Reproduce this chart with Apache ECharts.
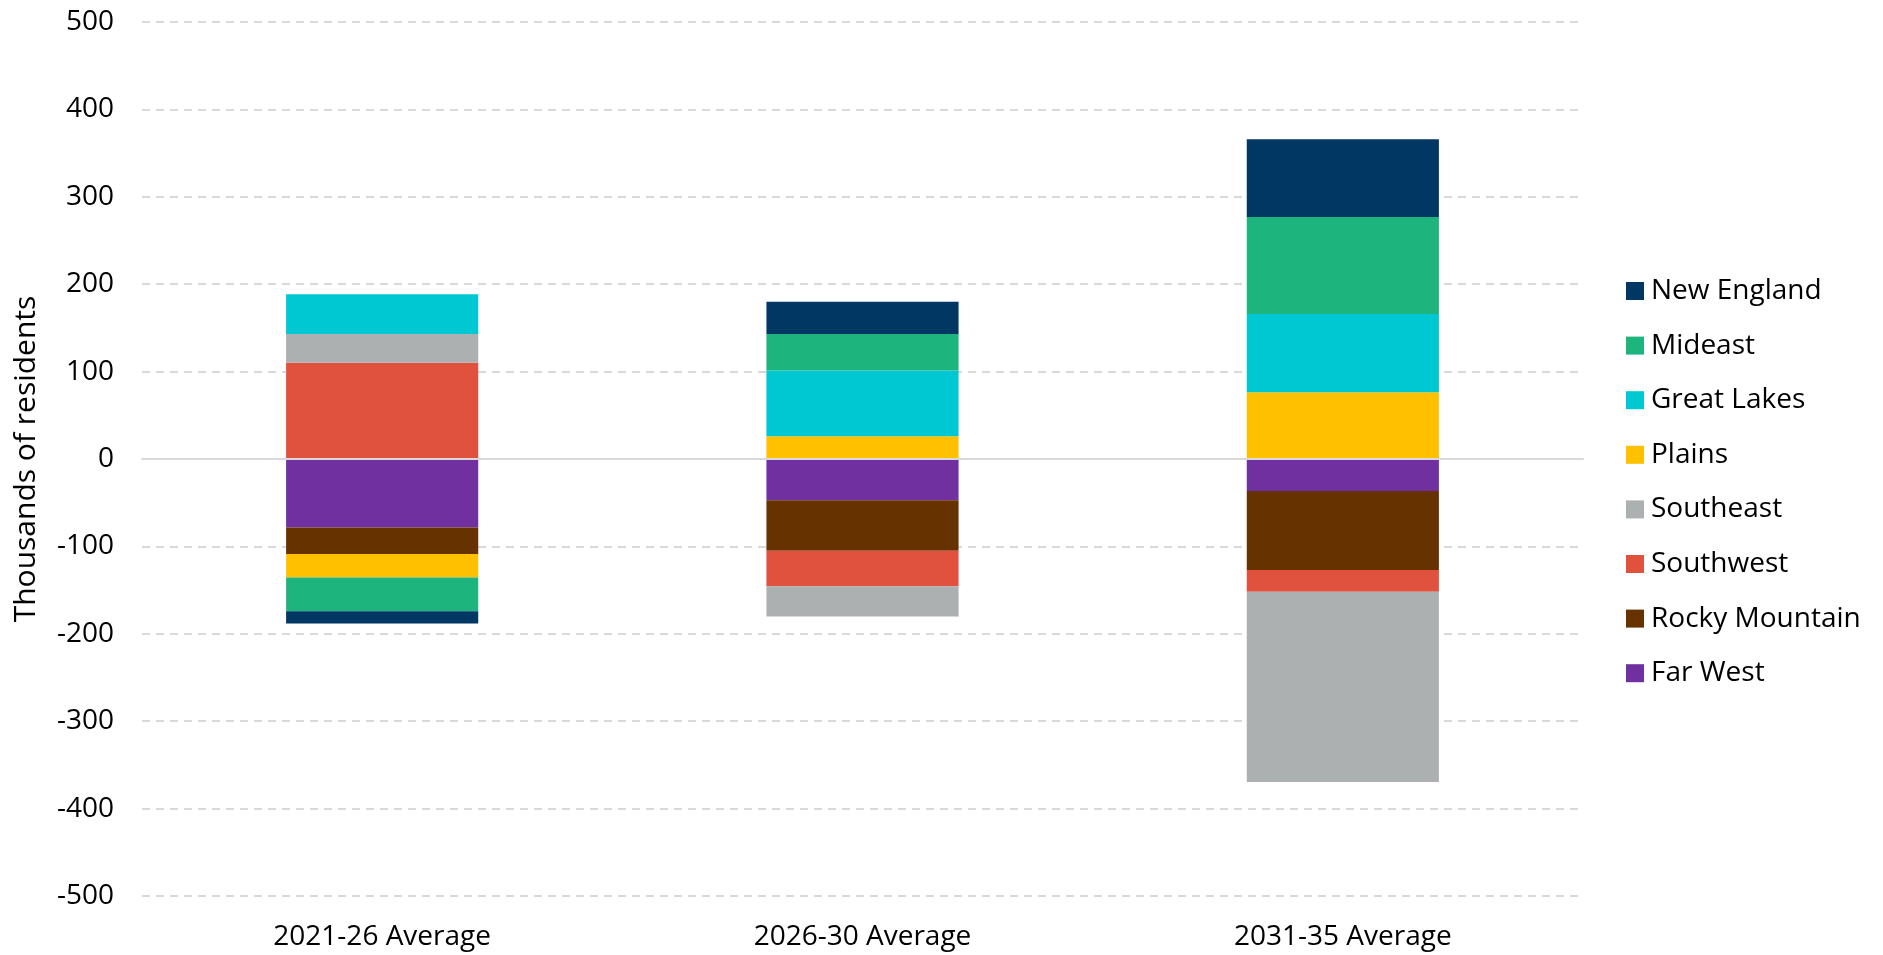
<!DOCTYPE html>
<html>
<head>
<meta charset="utf-8">
<script src="https://cdn.jsdelivr.net/npm/echarts@6/dist/echarts.min.js"></script>
<style>
  html, body { margin: 0; padding: 0; background: #fff; }
  #chart { width: 1883px; height: 955px; }
</style>
</head>
<body>
<div id="chart"></div>
<script>
const categories = ['2021-26 Average', '2026-30 Average', '2031-35 Average']
// thousands of residents
const newEngland = [-14, 37, 88.9]
const mideast = [-38.5, 41.6, 111.1]
const greatLakes = [45.7, 75.4, 89.4]
const plains = [-27, 25.9, 76.4]
const southeast = [32.8, -34.7, -217.8]
const southwest = [110.1, -40.5, -24.9]
const rockyMountain = [-30.1, -57.9, -90.3]
const farWest = [-78.5, -47.2, -36.7]
const yTicks = [-500, 500, 100]

const font = 'Open Sans'
const chartInstance = echarts.init(document.getElementById('chart'))

// stacked from zero outward: Far West first, New England last
const regions = [
  { name: 'Far West', data: farWest, color: '#7030A0' },
  { name: 'Rocky Mountain', data: rockyMountain, color: '#663300' },
  { name: 'Southwest', data: southwest, color: '#E0523E' },
  { name: 'Southeast', data: southeast, color: '#ADB0B1' },
  { name: 'Plains', data: plains, color: '#FFC000' },
  { name: 'Great Lakes', data: greatLakes, color: '#00C8D2' },
  { name: 'Mideast', data: mideast, color: '#1DB47E' },
  { name: 'New England', data: newEngland, color: '#003763' }
]

const option = {
  animation: false,
  textStyle: { fontFamily: font },
  grid: { left: 142, right: 300, top: 22, bottom: 59, containLabel: false },
  legend: {
    orient: 'vertical',
    left: 1621,
    top: 271,
    icon: 'rect',
    itemWidth: 18,
    itemHeight: 18,
    itemGap: 24.6,
    data: regions.map(r => r.name).reverse(),
    textStyle: { fontFamily: font, fontSize: 28, color: '#000', lineHeight: 30, padding: [0, 0, 0, 2] }
  },
  xAxis: {
    type: 'category',
    data: categories,
    z: 3,
    axisTick: { show: false },
    axisLine: { onZero: true, lineStyle: { color: '#D9D9D9', width: 2 } },
    axisLabel: {
      margin: 27,
      fontSize: 28,
      color: '#000',
      fontFamily: font
    }
  },
  yAxis: {
    type: 'value',
    min: yTicks[0],
    max: yTicks[1],
    interval: yTicks[2],
    name: 'Thousands of residents',
    nameLocation: 'middle',
    nameGap: 101,
    nameTextStyle: { fontSize: 30, color: '#000', fontFamily: font },
    axisLine: { show: false },
    axisTick: { show: false },
    axisLabel: { margin: 28, fontSize: 28, color: '#000', fontFamily: font },
    splitLine: { lineStyle: { color: '#D9D9D9', width: 2, type: [8, 6] } }
  },
  series: regions.map(r => ({
    name: r.name,
    type: 'bar',
    stack: 'total',
    barWidth: '40%',
    data: r.data,
    itemStyle: { color: r.color }
  }))
}

chartInstance.setOption(option)
</script>
</body>
</html>
